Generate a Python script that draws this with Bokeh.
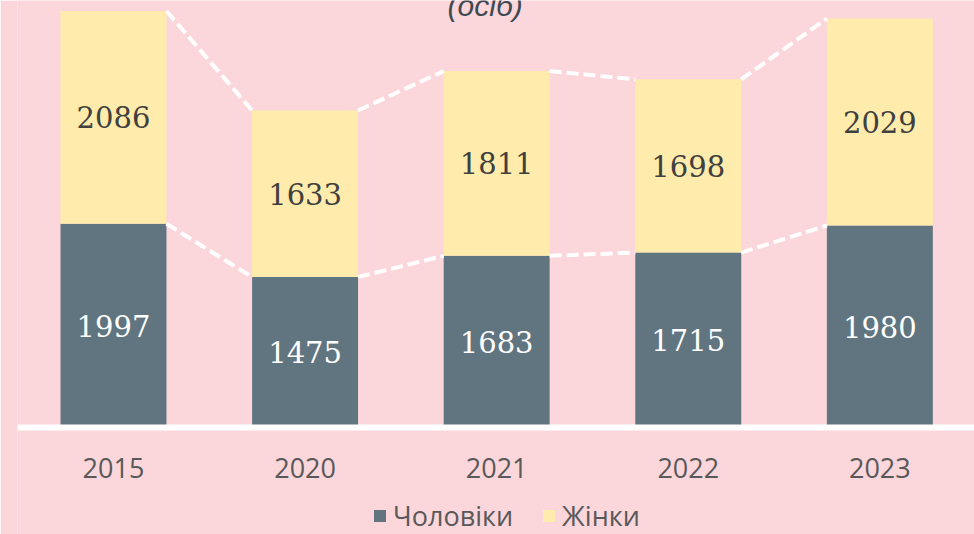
from bokeh.plotting import figure
from bokeh.models import Range1d, Legend, LegendItem, Label, ColumnDataSource, Span
from bokeh.core.properties import value
from bokeh.embed import file_html
from bokeh.resources import INLINE

# ---- data ----
years = ["2015", "2020", "2021", "2022", "2023"]
men = [1997, 1475, 1683, 1715, 1980]
women = [2086, 1633, 1811, 1698, 2029]
series_names = ["Чоловіки", "Жінки"]
title_text = "(осіб)"

# ---- style ----
BG = "#FBD6DB"
DARK = "#607580"
YEL = "#FFEBAB"
TXT = "#404040"
GREY = "#595959"
W = 0.553
YEAR_LABEL_Y = -400   # position of the category labels below the baseline

xs = list(range(len(years)))
totals = [m + w for m, w in zip(men, women)]

p = figure(width=974, height=534, output_backend="svg", toolbar_location=None,
           x_range=Range1d(-0.501, 4.494), y_range=Range1d(-1049, 4186),
           x_axis_location=None, y_axis_location=None,
           min_border_left=17, min_border_right=0, min_border_top=0, min_border_bottom=0)
p.background_fill_color = BG
p.border_fill_color = BG
p.outline_line_color = None
p.grid.visible = False

src = ColumnDataSource(dict(x=xs, men=men, women=women, total=totals,
                            men_mid=[m / 2 for m in men],
                            women_mid=[m + w / 2 for m, w in zip(men, women)],
                            men_txt=[str(v) for v in men],
                            women_txt=[str(v) for v in women],
                            year=years, year_y=[YEAR_LABEL_Y] * len(years)))

r_men = p.vbar(x="x", bottom=0, top="men", width=W, source=src,
               fill_color=DARK, line_color=None)
r_women = p.vbar(x="x", bottom="men", top="total", width=W, source=src,
                 fill_color=YEL, line_color=None)

# series lines between bars
seg = ColumnDataSource(dict(
    x0=[i + W / 2 for i in xs[:-1]] * 2,
    x1=[i + 1 - W / 2 for i in xs[:-1]] * 2,
    y0=totals[:-1] + men[:-1],
    y1=totals[1:] + men[1:],
))
p.segment(x0="x0", y0="y0", x1="x1", y1="y1", source=seg,
          line_color="white", line_width=4, line_dash="12 5")

# baseline (category axis line)
p.add_layout(Span(location=0, dimension="width", line_color="white", line_width=6))

# value labels
p.text(x="x", y="men_mid", text="men_txt", source=src,
       text_align="center", text_baseline="middle",
       text_font=value("DejaVu Serif"), text_font_size="29px", text_color="white")
p.text(x="x", y="women_mid", text="women_txt", source=src,
       text_align="center", text_baseline="middle",
       text_font=value("DejaVu Serif"), text_font_size="29px", text_color=TXT)

# category labels
p.text(x="x", y="year_y", text="year", source=src,
       text_align="center", text_baseline="middle",
       text_font=value("Open Sans"), text_font_size="27px", text_color=GREY)

p.add_layout(Label(x=1.94, y=4140, text=title_text, text_align="center",
                   text_baseline="alphabetic", text_font="Liberation Sans",
                   text_font_style="italic", text_font_size="30px",
                   text_color="#3F4A50"))

legend = Legend(items=[LegendItem(label=series_names[0], renderers=[r_men]),
                       LegendItem(label=series_names[1], renderers=[r_women])],
                orientation="horizontal", location=(355, 0),
                glyph_width=15, glyph_height=15, label_standoff=6, spacing=28,
                padding=0, margin=0,
                label_text_font="Open Sans", label_text_font_size="27px",
                label_text_color=GREY,
                background_fill_alpha=0, border_line_color=None)
p.add_layout(legend, "center")

open("out.html", "w").write(file_html(p, INLINE))
